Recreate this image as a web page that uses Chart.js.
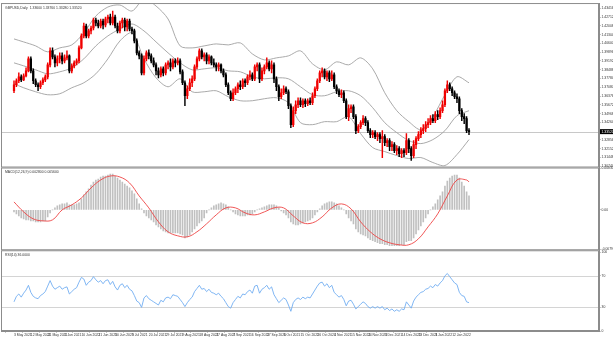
<!DOCTYPE html>
<html>
<head>
<meta charset="utf-8">
<script src="https://cdn.jsdelivr.net/npm/chart.js@4.4.0/dist/chart.umd.min.js"></script>
<style>
  html, body { margin: 0; padding: 0; background: #fff; }
</style>
</head>
<body>
<canvas id="chart" width="613" height="338"></canvas>
<script>
// daily candles
const open = [
  1.3680,1.3728,1.3760,1.3792,1.3768,1.3800,1.3840,1.3936,1.3840,1.3760,
  1.3728,1.3712,1.3744,1.3768,1.3792,1.3888,1.4000,1.3952,1.3904,1.3936,
  1.3960,1.3920,1.3944,1.3960,1.3840,1.3880,1.3904,1.3920,1.4024,1.4120,
  1.4200,1.4120,1.4160,1.4184,1.4248,1.4224,1.4200,1.4240,1.4208,1.4256,
  1.4272,1.4224,1.4272,1.4200,1.4160,1.4224,1.4248,1.4192,1.4240,1.4176,
  1.4160,1.4080,1.3984,1.3960,1.3824,1.3936,1.3984,1.3960,1.3920,1.3888,
  1.3840,1.3808,1.3856,1.3824,1.3888,1.3904,1.3872,1.3920,1.3904,1.3920,
  1.3832,1.3744,1.3640,1.3696,1.3744,1.3776,1.3872,1.3936,1.4000,1.3952,
  1.3968,1.3920,1.3952,1.3904,1.3888,1.3872,1.3888,1.3840,1.3808,1.3728,
  1.3664,1.3616,1.3664,1.3696,1.3728,1.3712,1.3760,1.3744,1.3792,1.3808,
  1.3776,1.3872,1.3888,1.3776,1.3840,1.3872,1.3904,1.3856,1.3888,1.3776,
  1.3712,1.3632,1.3664,1.3696,1.3672,1.3560,1.3408,1.3520,1.3568,1.3600,
  1.3568,1.3600,1.3576,1.3600,1.3584,1.3640,1.3696,1.3760,1.3824,1.3840,
  1.3792,1.3824,1.3776,1.3808,1.3712,1.3680,1.3648,1.3664,1.3600,1.3472,
  1.3536,1.3552,1.3472,1.3360,1.3392,1.3424,1.3456,1.3424,1.3360,1.3328,
  1.3344,1.3312,1.3328,1.3296,1.3312,1.3264,1.3280,1.3232,1.3248,1.3200,
  1.3216,1.3176,1.3200,1.3184,1.3280,1.3216,1.3160,1.3248,1.3296,1.3328,
  1.3360,1.3376,1.3408,1.3424,1.3456,1.3440,1.3488,1.3472,1.3520,1.3568,
  1.3680,1.3728,1.3696,1.3664,1.3632,1.3616,1.3520,1.3472,1.3456,1.3360
];
const high = [
  1.3760,1.3776,1.3824,1.3808,1.3816,1.3864,1.3952,1.3952,1.3856,1.3776,
  1.3744,1.3760,1.3784,1.3808,1.3904,1.4024,1.4024,1.3968,1.3960,1.3984,
  1.3984,1.3968,1.4000,1.3968,1.3896,1.3920,1.3936,1.4040,1.4136,1.4224,
  1.4216,1.4176,1.4200,1.4264,1.4264,1.4248,1.4256,1.4256,1.4272,1.4288,
  1.4296,1.4320,1.4288,1.4224,1.4240,1.4264,1.4264,1.4256,1.4256,1.4192,
  1.4176,1.4096,1.4000,1.3976,1.3960,1.4000,1.4008,1.3976,1.3944,1.3904,
  1.3864,1.3872,1.3872,1.3904,1.3920,1.3936,1.3936,1.3936,1.3944,1.3936,
  1.3848,1.3760,1.3720,1.3776,1.3800,1.3888,1.3952,1.4016,1.4016,1.3984,
  1.3984,1.3968,1.3960,1.3936,1.3904,1.3904,1.3896,1.3856,1.3824,1.3744,
  1.3680,1.3696,1.3712,1.3744,1.3760,1.3776,1.3776,1.3808,1.3840,1.3824,
  1.3888,1.3904,1.3904,1.3864,1.3888,1.3944,1.3920,1.3920,1.3904,1.3792,
  1.3728,1.3696,1.3720,1.3712,1.3688,1.3576,1.3552,1.3600,1.3624,1.3624,
  1.3616,1.3616,1.3616,1.3624,1.3664,1.3712,1.3776,1.3840,1.3864,1.3856,
  1.3840,1.3840,1.3840,1.3824,1.3728,1.3696,1.3688,1.3680,1.3616,1.3568,
  1.3568,1.3568,1.3488,1.3408,1.3440,1.3480,1.3472,1.3440,1.3376,1.3360,
  1.3360,1.3344,1.3344,1.3360,1.3328,1.3296,1.3296,1.3272,1.3264,1.3240,
  1.3232,1.3216,1.3216,1.3336,1.3296,1.3232,1.3280,1.3312,1.3352,1.3384,
  1.3408,1.3432,1.3456,1.3480,1.3488,1.3512,1.3520,1.3544,1.3600,1.3696,
  1.3760,1.3744,1.3712,1.3680,1.3656,1.3632,1.3536,1.3496,1.3472,1.3376
];
const low = [
  1.3664,1.3712,1.3744,1.3752,1.3760,1.3792,1.3832,1.3824,1.3736,1.3712,
  1.3680,1.3696,1.3728,1.3752,1.3776,1.3872,1.3936,1.3872,1.3880,1.3904,
  1.3896,1.3904,1.3928,1.3824,1.3824,1.3864,1.3888,1.3904,1.4016,1.4104,
  1.4104,1.4104,1.4136,1.4168,1.4200,1.4184,1.4184,1.4176,1.4192,1.4224,
  1.4208,1.4208,1.4184,1.4144,1.4144,1.4184,1.4160,1.4160,1.4160,1.4136,
  1.4064,1.3968,1.3936,1.3808,1.3808,1.3920,1.3936,1.3904,1.3872,1.3808,
  1.3784,1.3792,1.3800,1.3808,1.3856,1.3840,1.3856,1.3872,1.3888,1.3816,
  1.3728,1.3560,1.3616,1.3680,1.3712,1.3760,1.3856,1.3920,1.3936,1.3920,
  1.3896,1.3896,1.3888,1.3872,1.3840,1.3840,1.3824,1.3792,1.3712,1.3648,
  1.3600,1.3600,1.3648,1.3664,1.3688,1.3696,1.3712,1.3728,1.3768,1.3760,
  1.3760,1.3840,1.3744,1.3760,1.3816,1.3856,1.3840,1.3824,1.3744,1.3680,
  1.3600,1.3616,1.3648,1.3656,1.3536,1.3384,1.3392,1.3496,1.3544,1.3552,
  1.3544,1.3552,1.3560,1.3568,1.3568,1.3624,1.3680,1.3744,1.3792,1.3776,
  1.3760,1.3752,1.3760,1.3696,1.3656,1.3632,1.3624,1.3584,1.3456,1.3440,
  1.3504,1.3456,1.3336,1.3344,1.3376,1.3408,1.3400,1.3344,1.3304,1.3304,
  1.3296,1.3280,1.3264,1.3144,1.3240,1.3232,1.3200,1.3200,1.3184,1.3168,
  1.3152,1.3144,1.3152,1.3168,1.3184,1.3120,1.3144,1.3216,1.3280,1.3304,
  1.3336,1.3352,1.3384,1.3408,1.3424,1.3424,1.3448,1.3456,1.3504,1.3552,
  1.3664,1.3680,1.3640,1.3616,1.3584,1.3496,1.3440,1.3416,1.3344,1.3328
];
const close = [
  1.3728,1.3760,1.3792,1.3768,1.3800,1.3840,1.3936,1.3840,1.3760,1.3728,
  1.3712,1.3744,1.3768,1.3792,1.3888,1.4000,1.3952,1.3904,1.3936,1.3960,
  1.3920,1.3944,1.3960,1.3840,1.3880,1.3904,1.3920,1.4024,1.4120,1.4200,
  1.4120,1.4160,1.4184,1.4248,1.4224,1.4200,1.4240,1.4208,1.4256,1.4272,
  1.4224,1.4272,1.4200,1.4160,1.4224,1.4248,1.4192,1.4240,1.4176,1.4160,
  1.4080,1.3984,1.3960,1.3824,1.3936,1.3984,1.3960,1.3920,1.3888,1.3840,
  1.3808,1.3856,1.3824,1.3888,1.3904,1.3872,1.3920,1.3904,1.3920,1.3832,
  1.3744,1.3640,1.3696,1.3744,1.3776,1.3872,1.3936,1.4000,1.3952,1.3968,
  1.3920,1.3952,1.3904,1.3888,1.3872,1.3888,1.3840,1.3808,1.3728,1.3664,
  1.3616,1.3664,1.3696,1.3728,1.3712,1.3760,1.3744,1.3792,1.3808,1.3776,
  1.3872,1.3888,1.3776,1.3840,1.3872,1.3904,1.3856,1.3888,1.3776,1.3712,
  1.3632,1.3664,1.3696,1.3672,1.3560,1.3408,1.3520,1.3568,1.3600,1.3568,
  1.3600,1.3576,1.3600,1.3584,1.3640,1.3696,1.3760,1.3824,1.3840,1.3792,
  1.3824,1.3776,1.3808,1.3712,1.3680,1.3648,1.3664,1.3600,1.3472,1.3536,
  1.3552,1.3472,1.3360,1.3392,1.3424,1.3456,1.3424,1.3360,1.3328,1.3344,
  1.3312,1.3328,1.3296,1.3312,1.3264,1.3280,1.3232,1.3248,1.3200,1.3216,
  1.3176,1.3200,1.3184,1.3280,1.3216,1.3160,1.3248,1.3296,1.3328,1.3360,
  1.3376,1.3408,1.3424,1.3456,1.3440,1.3488,1.3472,1.3520,1.3568,1.3680,
  1.3728,1.3696,1.3664,1.3632,1.3616,1.3520,1.3472,1.3456,1.3360,1.3352
];

// bollinger bands (20,2), read every few bars
const bandBars = [0,4,9,14,19,24,29,34,39,44,49,54,59,64,69,74,79,84,89,94,99,104,109,114,119,124,129,134,139,144,149,154,159,164,169,174,179,184,189];
const bandUpper = [1.4096,1.4072,1.4040,1.3992,1.4024,1.4048,1.4144,1.4280,1.4352,1.4368,1.4320,1.4416,1.4360,1.4256,1.4040,1.4024,1.4040,1.4056,1.4048,1.4064,1.3976,1.3928,1.3944,1.3960,1.4000,1.3896,1.3848,1.3912,1.3888,1.3944,1.3856,1.3664,1.3520,1.3432,1.3368,1.3472,1.3648,1.3792,1.3744];
const bandMiddle = [1.3904,1.3880,1.3848,1.3816,1.3832,1.3864,1.3936,1.4040,1.4120,1.4176,1.4216,1.4160,1.4072,1.3984,1.3904,1.3848,1.3856,1.3864,1.3840,1.3832,1.3792,1.3776,1.3784,1.3776,1.3712,1.3648,1.3640,1.3672,1.3680,1.3640,1.3544,1.3424,1.3344,1.3280,1.3256,1.3288,1.3360,1.3480,1.3520];
const bandLower = [1.3736,1.3704,1.3672,1.3648,1.3656,1.3704,1.3744,1.3816,1.3936,1.4080,1.4144,1.3936,1.3784,1.3712,1.3776,1.3672,1.3672,1.3680,1.3632,1.3600,1.3600,1.3616,1.3624,1.3584,1.3424,1.3408,1.3432,1.3432,1.3472,1.3336,1.3224,1.3192,1.3160,1.3136,1.3144,1.3104,1.3080,1.3168,1.3288];

// MACD(12,26,9)
const macdHist = [
  -0.0004,-0.0008,-0.0012,-0.0016,-0.0018,-0.002,-0.002,-0.0022,-0.0022,-0.0024,
  -0.0024,-0.0024,-0.0022,-0.0022,-0.0014,-0.0006,0,0.0004,0.0008,0.001,
  0.0012,0.0012,0.0014,0.001,0.001,0.001,0.0012,0.0014,0.0022,0.003,
  0.0036,0.0042,0.005,0.0056,0.006,0.0062,0.0066,0.0068,0.0068,0.007,
  0.0072,0.0072,0.0068,0.0064,0.006,0.0056,0.0052,0.0048,0.0044,0.0038,
  0.0032,0.0022,0.0012,0.0002,-0.0006,-0.0012,-0.0016,-0.002,-0.0024,-0.003,
  -0.0034,-0.0038,-0.0042,-0.0044,-0.0046,-0.0046,-0.0046,-0.0046,-0.0046,-0.0048,
  -0.005,-0.0056,-0.0054,-0.005,-0.0044,-0.0038,-0.0032,-0.0026,-0.0022,-0.0016,
  -0.0006,0,0.0004,0.0008,0.001,0.0012,0.0014,0.0012,0.001,0.0006,
  0,-0.0004,-0.0008,-0.001,-0.0012,-0.0012,-0.0012,-0.001,-0.001,-0.0008,
  -0.0004,0,0.0002,0.0004,0.0006,0.0008,0.001,0.001,0.001,0.0008,
  0.0004,-0.0002,-0.0006,-0.001,-0.0016,-0.0024,-0.0028,-0.003,-0.003,-0.0028,
  -0.0026,-0.0024,-0.0022,-0.002,-0.0016,-0.001,-0.0004,0.0002,0.0008,0.0012,
  0.0014,0.0016,0.0016,0.0014,0.0012,0.0008,0.0004,0,-0.0008,-0.0016,
  -0.0022,-0.0028,-0.0038,-0.0044,-0.0048,-0.005,-0.0052,-0.0056,-0.006,-0.0062,
  -0.0064,-0.0066,-0.0068,-0.0068,-0.007,-0.007,-0.0072,-0.0072,-0.0072,-0.0072,
  -0.0072,-0.007,-0.007,-0.0064,-0.0062,-0.0062,-0.0056,-0.0048,-0.004,-0.0032,
  -0.0024,-0.0016,-0.0008,0,0.0006,0.0012,0.002,0.0028,0.0036,0.0048,
  0.0058,0.0064,0.0068,0.007,0.007,0.0064,0.0056,0.0048,0.0036,0.0028
];
const signalBars = [0,4,8,12,16,20,24,28,32,36,40,44,48,52,56,60,64,68,72,76,80,84,88,92,96,100,104,108,112,116,120,124,128,132,136,140,144,148,152,156,160,164,168,172,176,180,184,188,189];
const macdSignal = [0.0016,-0.0004,-0.0018,-0.0022,-0.002,0,0.001,0.0024,0.0044,0.006,0.0068,0.0066,0.0054,0.0028,0.0004,-0.0024,-0.0044,-0.0052,-0.0054,-0.0044,-0.0028,-0.001,0.0004,0.0004,-0.0006,-0.001,-0.0004,0.0004,0.0004,-0.0012,-0.0026,-0.0026,-0.0014,0.0004,0.0012,0.0002,-0.0024,-0.0044,-0.0058,-0.0066,-0.007,-0.007,-0.0058,-0.0034,-0.0008,0.0028,0.006,0.006,0.0056];

// RSI(14)
const rsi = [
  37,44,47,43,48,52,58,49,44,42, 41,45,47,50,57,64,57,53,55,57,
  53,55,56,47,50,53,55,62,68,66, 58,62,64,69,65,62,64,60,64,65,
  59,63,56,52,58,60,55,58,53,51, 45,38,36,30,42,45,41,39,37,35,
  33,39,37,42,43,41,46,45,44,40, 36,31,36,40,43,50,54,58,53,54,
  50,53,49,48,46,48,44,41,36,31, 29,36,40,44,42,47,46,50,52,48,
  57,58,48,53,55,58,53,56,46,41, 36,39,42,40,33,25,36,40,42,40,
  43,41,43,42,47,52,57,61,62,57, 60,55,58,49,46,43,45,40,32,38,
  39,34,28,31,34,37,35,31,29,31, 29,31,29,31,27,29,26,28,25,27,
  25,28,27,37,33,29,38,43,46,49, 50,53,54,57,55,59,57,61,64,70,
  73,69,65,61,59,49,45,44,37,36
];
const rsiLevels = [70, 30];

// axis labels
const priceTicks = [1.43416,1.42712,1.42008,1.41304,1.40600,1.39896,1.39192,1.38488,1.37784,1.37080,1.36376,1.35672,1.34968,1.34264,1.32856,1.32152,1.31448,1.30744];
const macdTicks = [0.0083, 0, -0.0079];
const rsiTicks = [100, 70, 30, 0];
const dateLabels = ["3 May 2021","12 May 2021","21 May 2021","1 Jun 2021","10 Jun 2021","21 Jun 2021","30 Jun 2021","9 Jul 2021","20 Jul 2021","29 Jul 2021","9 Aug 2021","18 Aug 2021","27 Aug 2021","7 Sep 2021","16 Sep 2021","27 Sep 2021","6 Oct 2021","15 Oct 2021","26 Oct 2021","4 Nov 2021","15 Nov 2021","24 Nov 2021","3 Dec 2021","14 Dec 2021","23 Dec 2021","3 Jan 2022","12 Jan 2022"];
const dateStep = 7;

const UP = "#f00000";
const DOWN = "#000000";
const tickFont = { family: "Liberation Sans", size: 3.4 };
const last = close.length - 1;

const candleColor = close.map((c, i) => (c >= open[i] ? UP : DOWN));

// mt4 style frames, titles, price tag and levels
const decor = {
  id: "decor",
  beforeDatasetsDraw(chart) {
    const { ctx, chartArea, scales } = chart;
    ctx.save();
    const yp = Math.round(scales.y.getPixelForValue(close[last])) + 0.5;
    ctx.strokeStyle = "#c8c8c8";
    ctx.lineWidth = 1;
    ctx.beginPath();
    ctx.moveTo(chartArea.left, yp);
    ctx.lineTo(chartArea.right, yp);
    ctx.stroke();
    ctx.strokeStyle = "#d4d4d4";
    rsiLevels.forEach(v => {
      const p = Math.round(scales.rsi.getPixelForValue(v)) + 0.5;
      ctx.beginPath();
      ctx.moveTo(chartArea.left, p);
      ctx.lineTo(chartArea.right, p);
      ctx.stroke();
    });
    ctx.restore();
  },
  afterDraw(chart) {
    const { ctx, chartArea, scales } = chart;
    ctx.save();
    ctx.strokeStyle = "#8c8c8c";
    ctx.lineWidth = 1;
    ["y", "macd", "rsi"].forEach(id => {
      const s = scales[id];
      ctx.strokeRect(chartArea.left + 0.5, s.top + 0.5, chartArea.right - chartArea.left - 1, s.bottom - s.top - 1);
    });
    ctx.fillStyle = "#333";
    ctx.font = "3.4px 'Liberation Sans'";
    ctx.textBaseline = "top";
    const f = v => v.toFixed(5);
    ctx.fillText("GBPUSD,Daily  " + f(open[last]) + " " + f(high[last]) + " " + f(low[last]) + " " + f(close[last]), chartArea.left + 4, scales.y.top + 3);
    ctx.fillText("MACD(12,26,9) " + macdHist[last].toFixed(6) + " " + macdSignal[macdSignal.length - 1].toFixed(6), chartArea.left + 4, scales.macd.top + 3);
    ctx.fillText("RSI(14) " + rsi[last].toFixed(4), chartArea.left + 4, scales.rsi.top + 3);
    // current price tag
    const yp = scales.y.getPixelForValue(close[last]);
    ctx.fillStyle = "#000";
    ctx.fillRect(chartArea.right + 1, yp - 2.5, 13, 5);
    ctx.fillStyle = "#fff";
    ctx.textBaseline = "middle";
    ctx.fillText(f(close[last]), chartArea.right + 2.5, yp);
    ctx.restore();
  }
};

function rightAxis(stackWeight, min, max, values, fmt) {
  return {
    type: "linear",
    position: "right",
    stack: "panes",
    stackWeight: stackWeight,
    min: min,
    max: max,
    afterFit: s => { s.width = 14; },
    afterBuildTicks: s => { s.ticks = values.map(v => ({ value: v })); },
    grid: { drawOnChartArea: false, tickLength: 1.5, color: "#8c8c8c" },
    border: { color: "#8c8c8c" },
    ticks: { font: tickFont, color: "#333", padding: 1, autoSkip: false, callback: fmt }
  };
}

new Chart(document.getElementById("chart"), {
  type: "bar",
  data: {
    datasets: [
      {
        label: "body",
        data: open.map((o, i) => ({ x: i, y: [o, close[i]] })),
        backgroundColor: candleColor,
        barThickness: 1.6,
        grouped: false,
        order: 1,
        yAxisID: "y"
      },
      {
        label: "wick",
        data: low.map((l, i) => ({ x: i, y: [l, high[i]] })),
        backgroundColor: candleColor,
        barThickness: 0.8,
        grouped: false,
        order: 2,
        yAxisID: "y"
      },
      {
        type: "line",
        label: "upper",
        data: bandBars.map((b, k) => ({ x: b, y: bandUpper[k] })),
        borderColor: "#a0a0a0", borderWidth: 0.9, pointRadius: 0, tension: 0.3,
        order: 3, yAxisID: "y"
      },
      {
        type: "line",
        label: "middle",
        data: bandBars.map((b, k) => ({ x: b, y: bandMiddle[k] })),
        borderColor: "#a0a0a0", borderWidth: 0.9, pointRadius: 0, tension: 0.3,
        order: 3, yAxisID: "y"
      },
      {
        type: "line",
        label: "lower",
        data: bandBars.map((b, k) => ({ x: b, y: bandLower[k] })),
        borderColor: "#a0a0a0", borderWidth: 0.9, pointRadius: 0, tension: 0.3,
        order: 3, yAxisID: "y"
      },
      {
        label: "macd",
        data: macdHist.map((v, i) => ({ x: i, y: v })),
        backgroundColor: "#c0c0c0",
        barThickness: 1,
        grouped: false,
        order: 5,
        yAxisID: "macd"
      },
      {
        type: "line",
        label: "signal",
        data: signalBars.map((b, k) => ({ x: b, y: macdSignal[k] })),
        borderColor: "#ee4444", borderWidth: 0.9, pointRadius: 0, tension: 0.4,
        order: 4, yAxisID: "macd"
      },
      {
        type: "line",
        label: "rsi",
        data: rsi.map((v, i) => ({ x: i, y: v })),
        borderColor: "#72aef2", borderWidth: 0.9, pointRadius: 0, tension: 0,
        order: 4, yAxisID: "rsi"
      }
    ]
  },
  options: {
    responsive: false,
    animation: false,
    devicePixelRatio: 1,
    layout: { padding: { top: 2, left: 1, right: 0, bottom: 0 } },
    plugins: { legend: { display: false }, tooltip: { enabled: false } },
    scales: {
      x: {
        type: "linear",
        position: "bottom",
        min: -0.8,
        max: 238.4,
        afterFit: s => { s.height = 7; },
        afterBuildTicks: s => { s.ticks = dateLabels.map((_, k) => ({ value: k * dateStep })); },
        grid: { drawOnChartArea: false, tickLength: 1.5, color: "#8c8c8c" },
        border: { color: "#8c8c8c" },
        ticks: {
          font: tickFont, color: "#333", padding: 0.5, align: "start",
          autoSkip: false, maxRotation: 0, minRotation: 0,
          callback: (v, k) => dateLabels[k]
        }
      },
      y: rightAxis(165, 1.3064, 1.4384, priceTicks, v => v.toFixed(5)),
      macd: rightAxis(83, -0.0081, 0.0085, macdTicks, v => (v === 0 ? "0.00" : v.toFixed(6))),
      rsi: rightAxis(81, 0, 102.5, rsiTicks, v => String(v))
    }
  },
  plugins: [decor]
});
</script>
</body>
</html>
